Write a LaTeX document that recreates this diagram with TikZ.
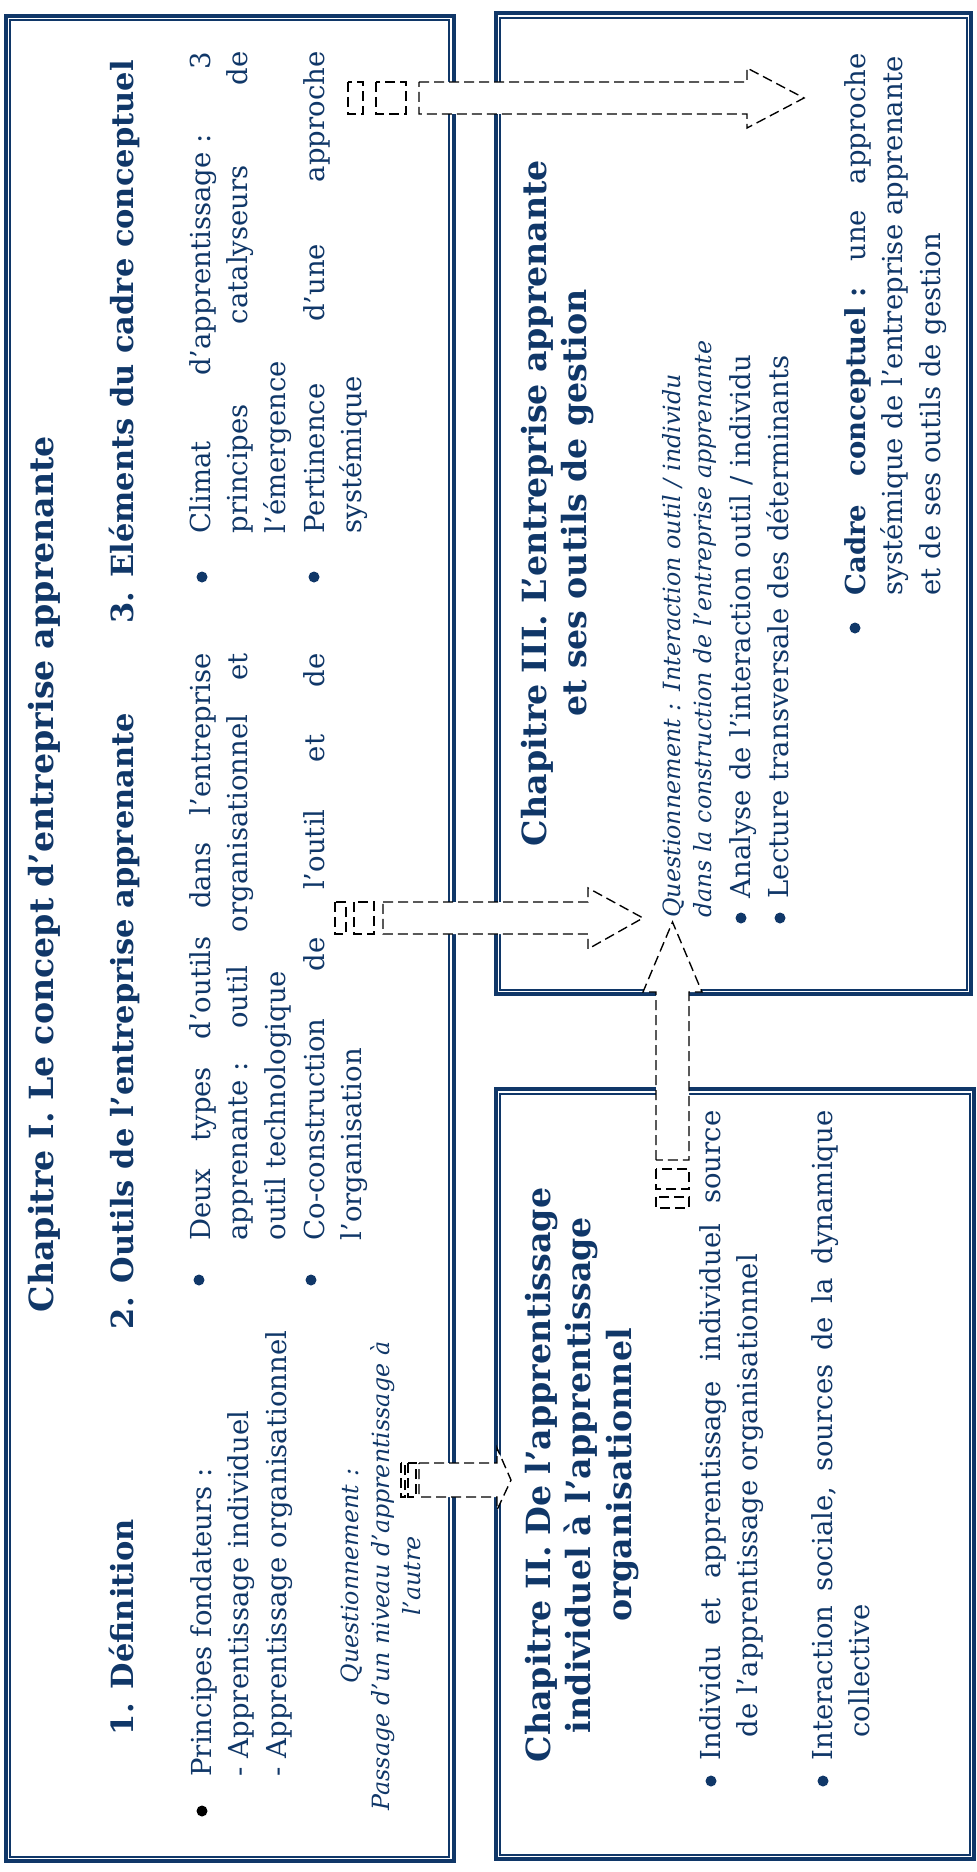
\documentclass[tikz,border=0pt]{standalone}
\usepackage{fontspec}
\setmainfont{DejaVu Serif}
\definecolor{navy}{RGB}{16,55,104}
\newcommand{\pxu}{0.4pt}
\begin{document}
\begin{tikzpicture}[
            x=0.4pt, y=-0.4pt,
            txt/.style={rotate=90, anchor=base west, inner sep=0, text=navy, align=justify,
                        font=\fontsize{11}{15.1}\selectfont},
            ttl/.style={rotate=90, anchor=base, inner sep=0, text=navy, align=center,
                        text width=1000*\pxu, font=\bfseries\fontsize{13.3}{16.2}\selectfont},
            sub/.style={rotate=90, anchor=base, inner sep=0, text=navy,
                        font=\bfseries\fontsize{12.2}{15}\selectfont},
            qst/.style={rotate=90, anchor=base, inner sep=0, text=navy,
                        font=\itshape\fontsize{9.5}{12.4}\selectfont},
            pnt/.style={circle, fill=navy, inner sep=0, minimum size=4.4pt},
            brd/.style={draw=navy, line width=1.6pt},
            brdin/.style={draw=navy, line width=0.8pt},
            blk/.style={draw=black, fill=white, line width=0.55pt, dash pattern=on 4pt off 2pt}
        ]
           \useasboundingbox (0,0) rectangle (976,1872);

           % boxes
           \draw[brd] (5.5,16) rectangle (453.5,1861);
           \draw[brdin] (10,20.5) rectangle (449,1856.5);
           \draw[brd] (495.5,13.5) rectangle (971,994);
           \draw[brdin] (500,18) rectangle (966.5,989.5);
           \draw[brd] (495.5,1089) rectangle (974,1859);
           \draw[brdin] (500,1093.5) rectangle (969.5,1854.5);

           % striped arrows
           \draw[blk] (348,82) rectangle (363,114);
           \draw[blk] (376,82) rectangle (406,114);
           \draw[blk] (419,82) -- (747,82) -- (747,68) -- (804,98) -- (747,128) -- (747,114) -- (419,114) -- cycle;

           \draw[blk] (335,902) rectangle (346,934);
           \draw[blk] (354,902) rectangle (374,934);
           \draw[blk] (383,902) -- (588,902) -- (588,888) -- (643,918) -- (588,949) -- (588,934) -- (383,934) -- cycle;

           \draw[blk] (656,1197) rectangle (689,1208);
           \draw[blk] (656,1169) rectangle (689,1189);
           \draw[blk] (656,1160) -- (656,992) -- (643,992) -- (672.5,922) -- (702,992) -- (689,992) -- (689,1160) -- cycle;

           \draw[blk] (401,1463) rectangle (405,1497);
           \draw[blk] (408,1463) rectangle (416,1497);
           \draw[blk] (419,1463) -- (497,1463) -- (497,1448) -- (511,1480) -- (497,1510) -- (497,1497) -- (419,1497) -- cycle;

           % Chapitre I
           \node[ttl] (ch1) at (53,874) {Chapitre I. Le concept d’entreprise apprenante};
           \node[sub] (def) at (133,1627) {1. Définition};
           \node[sub] (outils) at (133,1021) {2. Outils de l’entreprise apprenante};
           \node[sub] (elem) at (133,342) {3. Eléments du cadre conceptuel};

           \node[pnt, fill=black] (p1) at (202,1811) {};
           \node[txt, align=left, text width=480*\pxu] (princ) at (211,1777)
                {Principes fondateurs~:\\- Apprentissage individuel\\- Apprentissage organisationnel};
           \node[qst, align=center, text width=520*\pxu] (quest1) at (358,1576)
                {Questionnement~:\\Passage d’un niveau d’apprentissage à\\l’autre};

           \node[pnt] (p2a) at (199,1280) {};
           \node[pnt] (p2b) at (311,1280) {};
           \node[txt, text width=587*\pxu] (types) at (210,1241)
                {Deux types d’outils dans l’entreprise\linebreak \mbox{apprenante~:} outil organisationnel et\linebreak outil technologique};
           \node[txt, text width=587*\pxu] (cocons) at (324,1241)
                {Co-construction de l’outil et de\linebreak l’organisation};

           \node[pnt] (p3a) at (202,577) {};
           \node[pnt] (p3b) at (314,577) {};
           \node[txt, text width=482*\pxu] (climat) at (210,534)
                {Climat \mbox{d’apprentissage~:} 3\linebreak principes catalyseurs de\linebreak l’émergence};
           \node[txt, text width=482*\pxu] (pertin) at (324,534)
                {Pertinence d’une approche\linebreak systémique};

           % Chapitre III
           \node[ttl] (ch3) at (546,503) {Chapitre III. L’entreprise apprenante\\et ses outils de gestion};
           \node[qst, anchor=base west, align=left, text width=600*\pxu] (quest3) at (680,918)
                {Questionnement~: Interaction outil / individu\\dans la construction de l’entreprise apprenante};
           \node[pnt] (p4a) at (741,918) {};
           \node[pnt] (p4b) at (780,918) {};
           \node[txt, align=left, text width=600*\pxu] (analyse) at (750,899)
                {Analyse de l’interaction outil / individu};
           \node[txt, align=left, text width=600*\pxu] (lecture) at (788,899)
                {Lecture transversale des déterminants};
           \node[pnt] (p4c) at (855,628) {};
           \node[txt, text width=542*\pxu] (cadre) at (865,596)
                {\textbf{Cadre \mbox{conceptuel~:}} une approche\linebreak systémique de l’entreprise apprenante\\et de ses outils de gestion};

           % Chapitre II
           \node[ttl] (ch2) at (550,1475) {Chapitre II. De l’apprentissage\\individuel à l’apprentissage\\organisationnel};
           \node[pnt] (p5a) at (711,1781) {};
           \node[pnt] (p5b) at (823,1781) {};
           \node[txt, text width=650*\pxu] (indiv) at (720,1761)
                {Individu et apprentissage individuel source\linebreak\hspace*{9.2pt}de l’apprentissage organisationnel};
           \node[txt, text width=650*\pxu] (inter) at (832,1761)
                {Interaction sociale, sources de la dynamique\linebreak\hspace*{9.2pt}collective};
        \end{tikzpicture}
\end{document}
